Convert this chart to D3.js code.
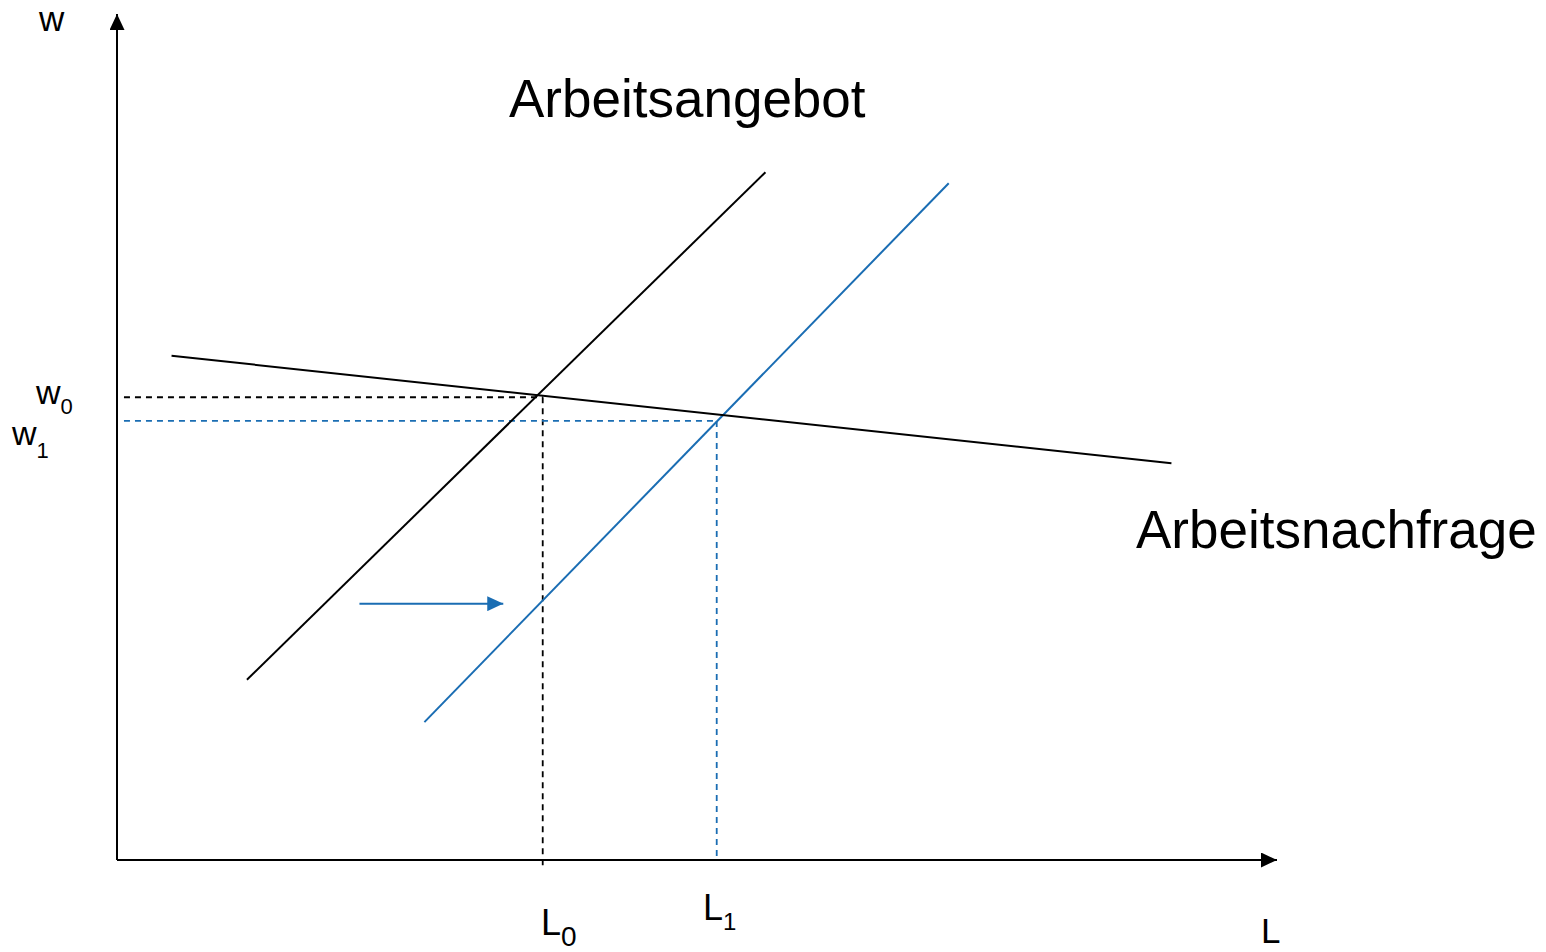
<!DOCTYPE html>
<html>
<head>
<meta charset="utf-8">
<script src="https://cdn.jsdelivr.net/npm/d3@7"></script>
<style>
  body { margin: 0; background: #fff; }
  svg text { font-family: Arial, 'Liberation Sans', sans-serif; fill: #000; }
</style>
</head>
<body>
<div id="chart"></div>
<script>
'use strict';

// axis domains (abstract units: L = labour, w = wage)
var lDomain = [0, 10];
var wDomain = [0, 10];

// curves as [L, w] end points
var supplyOld = [[1.12, 2.13], [5.59, 8.13]];
var supplyNew = [[2.65, 1.63], [7.17, 8.00]];
var demand = [[0.47, 5.96], [9.09, 4.69]];
var shiftArrow = [[2.09, 3.03], [3.33, 3.03]];

// equilibria
var eqL = [3.67, 5.17];
var eqW = [5.47, 5.19];
var eqColor = ['#000', '#1a6db3'];

var blue = '#1a6db3';

var svg = d3.select('#chart')
    .append('svg')
        .attr('width', 1546)
        .attr('height', 952);

var x = d3.scaleLinear().domain(lDomain).range([117, 1277]);
var y = d3.scaleLinear().domain(wDomain).range([860, 14]);

var line = d3.line()
    .x(function(d) { return x(d[0]); })
    .y(function(d) { return y(d[1]); });

var defs = svg.append('defs');
var marker = function(id, color, w, h) {
    defs.append('marker')
        .attr('id', id)
        .attr('viewBox', '0 0 ' + w + ' ' + h)
        .attr('refX', w)
        .attr('refY', h / 2)
        .attr('markerWidth', w)
        .attr('markerHeight', h)
        .attr('markerUnits', 'userSpaceOnUse')
        .attr('orient', 'auto')
        .append('path')
            .attr('d', 'M0,0L' + w + ',' + (h / 2) + 'L0,' + h + 'Z')
            .attr('fill', color);
};
marker('axisHead', '#000', 16, 15);
marker('shiftHead', blue, 16, 15);

// axes
svg.append('path')
    .attr('d', line([[lDomain[0], wDomain[0]], [lDomain[0], wDomain[1]]]))
    .attr('stroke', '#000').attr('stroke-width', 2)
    .attr('marker-end', 'url(#axisHead)');
svg.append('path')
    .attr('d', line([[lDomain[0], wDomain[0]], [lDomain[1], wDomain[0]]]))
    .attr('stroke', '#000').attr('stroke-width', 2)
    .attr('marker-end', 'url(#axisHead)');

// dashed guides
var guides = svg.append('g').attr('fill', 'none').attr('stroke-width', 1.8)
    .attr('stroke-dasharray', '6,5');
eqL.forEach(function(l, i) {
    guides.append('path')
        .attr('stroke', eqColor[i])
        .attr('d', line([[0.06, eqW[i]], [l, eqW[i]]]));
    guides.append('path')
        .attr('stroke', eqColor[i])
        .attr('d', line([[l, eqW[i]], [l, i == 0 ? -0.07 : 0.03]]));
});

// curves
svg.append('path').attr('d', line(supplyOld))
    .attr('stroke', '#000').attr('stroke-width', 2).attr('fill', 'none');
svg.append('path').attr('d', line(supplyNew))
    .attr('stroke', blue).attr('stroke-width', 2).attr('fill', 'none');
svg.append('path').attr('d', line(demand))
    .attr('stroke', '#000').attr('stroke-width', 2).attr('fill', 'none');
svg.append('path').attr('d', line(shiftArrow))
    .attr('stroke', blue).attr('stroke-width', 2).attr('fill', 'none')
    .attr('marker-end', 'url(#shiftHead)');

// labels
var label = function(tx, ty, size, main, sub, subSize, subDy) {
    var t = svg.append('text')
        .attr('x', tx).attr('y', ty)
        .style('font-size', size + 'px')
        .text(main);
    if (sub !== undefined) {
        t.append('tspan')
            .attr('dy', subDy)
            .style('font-size', subSize + 'px')
            .text(sub);
    }
};

label(39, 31, 35, 'w');
label(36, 404, 34, 'w', '0', 22, 10);
label(12, 445, 34, 'w', '1', 22, 13);
label(541, 935, 36, 'L', '0', 28, 11);
label(703, 920, 36, 'L', '1', 24, 10);
label(1261, 943, 35, 'L');
label(509, 117, 53, 'Arbeitsangebot');
label(1136, 548, 53, 'Arbeitsnachfrage');
</script>
</body>
</html>
